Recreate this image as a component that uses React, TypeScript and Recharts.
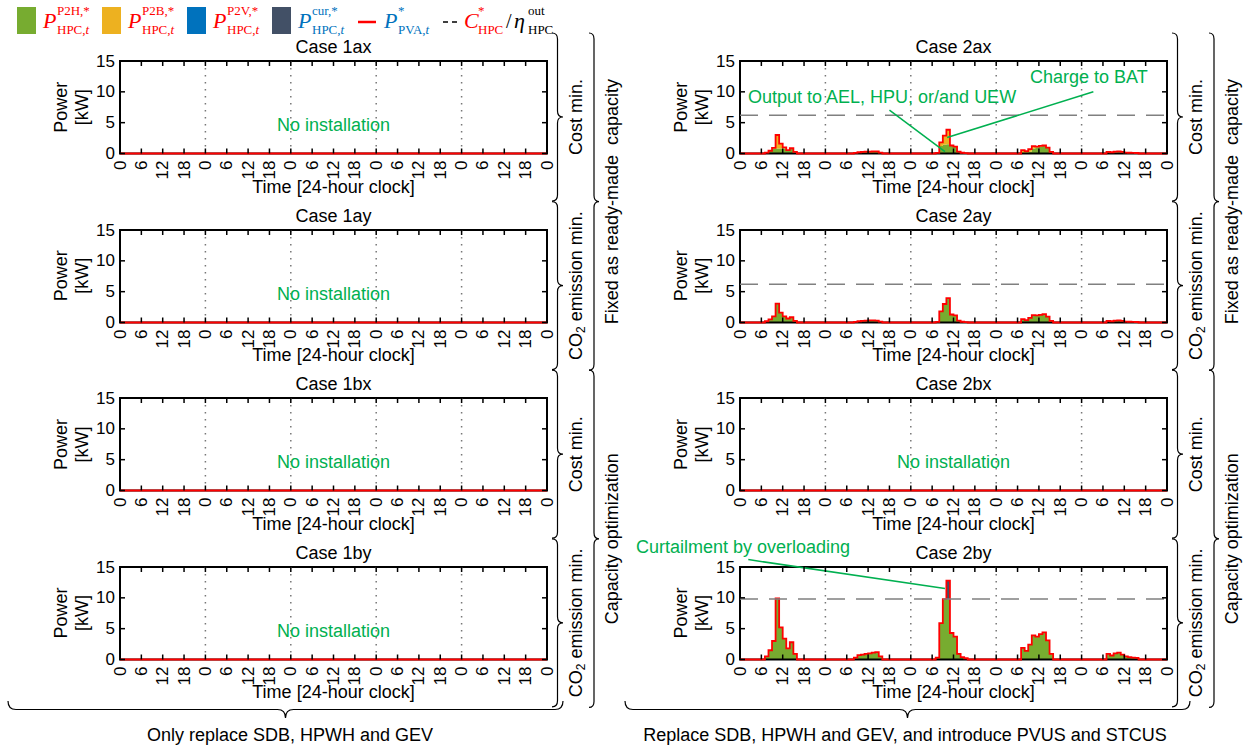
import React from "react";
import { ComposedChart, Area, Line, XAxis, YAxis, ReferenceLine, ReferenceArea } from "recharts";

// hourly values, one row per day, for the hours 6..17 (everything else is 0)
const FIRST_HOUR = 6;
const HOURS = 120;
const X_TICKS = [0, 6, 12, 18, 24, 30, 36, 42, 48, 54, 60, 66, 72, 78, 84, 90, 96, 102, 108, 114, 120];
const Y_TICKS = [0, 5, 10, 15];
const DAY_LINES = [24, 48, 72, 96];

const PV_2AX = [
  [0, 0.15, 0.45, 0.9, 3.0, 1.6, 1.0, 0.55, 0.85, 0.25, 0, 0],
  [0, 0, 0.1, 0.2, 0.25, 0.3, 0.3, 0.35, 0.35, 0.15, 0, 0],
  [0, 0.1, 1.8, 2.9, 3.85, 1.3, 1.1, 0.3, 0.12, 0.06, 0, 0],
  [0, 0.55, 0.4, 0.7, 1.2, 1.1, 1.25, 1.3, 0.95, 0.25, 0, 0],
  [0, 0.25, 0.2, 0.3, 0.35, 0.25, 0.15, 0.12, 0.1, 0.08, 0, 0],
];
const P2H_2AX = [
  [0, 0.15, 0.45, 0.8, 0.8, 0.8, 0.8, 0.55, 0.8, 0.25, 0, 0],
  [0, 0, 0.05, 0.1, 0.1, 0.1, 0.1, 0.1, 0.1, 0.05, 0, 0],
  [0, 0.1, 1.2, 1.4, 1.5, 1.3, 1.1, 0.3, 0.12, 0.06, 0, 0],
  [0, 0.1, 0.1, 0.3, 0.8, 1.0, 1.1, 1.2, 0.9, 0.25, 0, 0],
  [0, 0.1, 0.1, 0.15, 0.2, 0.15, 0.1, 0.1, 0.05, 0.05, 0, 0],
];
const P2B_2AX = [
  [0, 0, 0, 0.1, 2.2, 0.8, 0.2, 0, 0.05, 0, 0, 0],
  [0, 0, 0.05, 0.1, 0.15, 0.2, 0.2, 0.25, 0.25, 0.1, 0, 0],
  [0, 0, 0.6, 1.5, 2.35, 0, 0, 0, 0, 0, 0, 0],
  [0, 0.45, 0.3, 0.4, 0.4, 0.1, 0.15, 0.1, 0.05, 0, 0, 0],
  [0, 0.15, 0.1, 0.15, 0.15, 0.1, 0.05, 0.02, 0.05, 0.03, 0, 0],
];

const PV_2AY = [
  [0, 0.2, 0.5, 1.0, 3.05, 1.6, 1.0, 0.65, 0.85, 0.25, 0, 0],
  [0, 0, 0.1, 0.2, 0.25, 0.3, 0.35, 0.35, 0.3, 0.15, 0, 0],
  [0, 0.1, 1.8, 3.0, 3.95, 1.3, 1.15, 0.3, 0.12, 0.06, 0, 0],
  [0, 0.55, 0.4, 0.75, 1.2, 1.15, 1.25, 1.35, 0.95, 0.25, 0, 0],
  [0, 0.25, 0.2, 0.3, 0.35, 0.25, 0.15, 0.12, 0.1, 0.08, 0, 0],
];
// in 2ay everything generated goes to P2H
const P2H_2AY = PV_2AY;

const PV_2BY = [
  [0, 0.5, 1.5, 3.0, 9.9, 5.2, 3.4, 1.8, 2.8, 0.9, 0, 0],
  [0, 0, 0.3, 0.7, 0.8, 0.9, 1.0, 1.1, 1.2, 0.5, 0, 0],
  [0, 0.3, 5.9, 9.8, 12.8, 4.3, 3.7, 0.9, 0.4, 0.2, 0, 0],
  [0, 1.9, 1.4, 2.4, 3.9, 3.7, 4.1, 4.4, 3.1, 0.9, 0, 0],
  [0, 0.9, 0.65, 1.0, 1.1, 0.8, 0.5, 0.4, 0.3, 0.25, 0, 0],
];
const P2H_2BY = [
  [0, 0.5, 1.5, 3.0, 9.9, 5.2, 3.4, 1.8, 2.8, 0.9, 0, 0],
  [0, 0, 0.3, 0.7, 0.8, 0.9, 1.0, 1.1, 1.2, 0.5, 0, 0],
  [0, 0.3, 5.9, 9.8, 9.8, 4.3, 3.7, 0.9, 0.4, 0.2, 0, 0],
  [0, 1.9, 1.4, 2.4, 3.9, 3.7, 4.1, 4.4, 3.1, 0.9, 0, 0],
  [0, 0.9, 0.65, 1.0, 1.1, 0.8, 0.5, 0.4, 0.3, 0.25, 0, 0],
];
const CUR_2BY = [
  [],
  [],
  [0, 0, 0, 0, 3.0, 0, 0, 0, 0, 0, 0, 0],
];

const CAP_2AX = 6.2;
const CAP_2AY = 6.2;
const CAP_2BY = 9.8;

const FONT = "'Liberation Sans', Arial, sans-serif";
const SERIF = "'Liberation Serif', 'DejaVu Serif', serif";
const GREEN = "#77ac30";
const ORANGE = "#edb120";
const BLUE = "#0072bd";
const DARK = "#425066";
const NOTE = "#00b050";

const PLOT_W = 427;
const PLOT_H = 92.5;
const COL_X = [120, 740];
const ROW_Y = [61, 229.6, 398.2, 566.8];
const Y_AXIS_W = 75;
const X_AXIS_H = 50;
const M_TOP = 32;
const M_RIGHT = 8;

function toHourly(days?: number[][]): number[] {
  const out: number[] = new Array(HOURS + 1).fill(0);
  (days || []).forEach((vals, d) => vals.forEach((v, i) => (out[d * 24 + FIRST_HOUR + i] = v)));
  return out;
}

type Seg = { x: number; y: number }[];
type Panel = {
  title: string;
  col: number;
  row: number;
  pv?: number[][];
  p2h?: number[][];
  p2b?: number[][];
  p2v?: number[][];
  cur?: number[][];
  cap?: number;
  notes?: Seg[];
};

const PANELS: Panel[] = [
  { title: "Case 1ax", col: 0, row: 0 },
  { title: "Case 1ay", col: 0, row: 1 },
  { title: "Case 1bx", col: 0, row: 2 },
  { title: "Case 1by", col: 0, row: 3 },
  {
    title: "Case 2ax", col: 1, row: 0, pv: PV_2AX, p2h: P2H_2AX, p2b: P2B_2AX, cap: CAP_2AX,
    notes: [
      [{ x: 42, y: 7.05 }, { x: 57.6, y: 0.3 }],
      [{ x: 99.3, y: 10 }, { x: 58.2, y: 2.6 }],
    ],
  },
  { title: "Case 2ay", col: 1, row: 1, pv: PV_2AY, p2h: P2H_2AY, cap: CAP_2AY },
  { title: "Case 2bx", col: 1, row: 2 },
  {
    title: "Case 2by", col: 1, row: 3, pv: PV_2BY, p2h: P2H_2BY, cur: CUR_2BY, cap: CAP_2BY,
    notes: [[{ x: 2.33, y: 16.2 }, { x: 57.6, y: 11.5 }]],
  },
];

const XTick = (props: any) => {
  const { x, y, payload } = props;
  return (
    <g>
      <line x1={x} y1={y} x2={x} y2={y - 5} stroke="#000" strokeWidth={1.5} />
      <line x1={x} y1={y - PLOT_H} x2={x} y2={y - PLOT_H + 5} stroke="#000" strokeWidth={1.5} />
      <text
        transform={`translate(${x},${y + 7}) rotate(-90)`}
        textAnchor="end"
        dominantBaseline="central"
        fontSize={17}
        fontFamily={FONT}
        fill="#000"
      >
        {payload.value % 24}
      </text>
    </g>
  );
};

const YTick = (props: any) => {
  const { x, y, payload } = props;
  return (
    <g>
      <line x1={x} y1={y} x2={x + 5} y2={y} stroke="#000" strokeWidth={1.5} />
      <line x1={x + PLOT_W} y1={y} x2={x + PLOT_W - 5} y2={y} stroke="#000" strokeWidth={1.5} />
      <text x={x - 5} y={y} textAnchor="end" dominantBaseline="central" fontSize={17} fontFamily={FONT} fill="#000">
        {payload.value}
      </text>
    </g>
  );
};

function PanelChart({ p }: { p: Panel }) {
  const pv = toHourly(p.pv);
  const p2h = toHourly(p.p2h);
  const p2b = toHourly(p.p2b);
  const p2v = toHourly(p.p2v);
  const cur = toHourly(p.cur);
  const rows = pv.map((v, h) => ({ h, pv: v, p2h: p2h[h], p2b: p2b[h], p2v: p2v[h], cur: cur[h] }));
  const left = COL_X[p.col] - Y_AXIS_W;
  const top = ROW_Y[p.row] - M_TOP;

  return (
    <div style={{ position: "absolute", left, top }}>
      <ComposedChart
        width={Y_AXIS_W + PLOT_W + M_RIGHT}
        height={M_TOP + PLOT_H + X_AXIS_H}
        data={rows}
        margin={{ top: M_TOP, right: M_RIGHT, bottom: 0, left: 0 }}
      >
        <XAxis
          dataKey="h"
          type="number"
          domain={[0, HOURS]}
          ticks={X_TICKS}
          interval={0}
          height={X_AXIS_H}
          axisLine={false}
          tickLine={false}
          tickSize={0}
          tickMargin={0}
          tick={<XTick />}
        />
        <YAxis
          type="number"
          domain={[0, 15]}
          ticks={Y_TICKS}
          interval={0}
          width={Y_AXIS_W}
          axisLine={false}
          tickLine={false}
          tickSize={0}
          tickMargin={0}
          tick={<YTick />}
        />
        {DAY_LINES.map((d) => (
          <ReferenceLine key={d} x={d} stroke="#777" strokeWidth={1.5} strokeDasharray="1.5 5.5" />
        ))}
        <Area type="stepAfter" dataKey="p2h" stackId="s" fill={GREEN} fillOpacity={1} stroke="none" dot={false} activeDot={false} isAnimationActive={false} />
        <Area type="stepAfter" dataKey="p2b" stackId="s" fill={ORANGE} fillOpacity={1} stroke="none" dot={false} activeDot={false} isAnimationActive={false} />
        <Area type="stepAfter" dataKey="p2v" stackId="s" fill={BLUE} fillOpacity={1} stroke="none" dot={false} activeDot={false} isAnimationActive={false} />
        <Area type="stepAfter" dataKey="cur" stackId="s" fill={DARK} fillOpacity={1} stroke="none" dot={false} activeDot={false} isAnimationActive={false} />
        <Line type="stepAfter" dataKey="pv" stroke="#ff0000" strokeWidth={1.8} dot={false} activeDot={false} isAnimationActive={false} />
        {p.cap !== undefined && (
          <ReferenceLine y={p.cap} stroke="#808080" strokeWidth={1.4} strokeDasharray="18 11" />
        )}
        {(p.notes || []).map((s, i) => (
          <ReferenceLine key={i} segment={s} ifOverflow="visible" stroke={NOTE} strokeWidth={1.5} />
        ))}
        <ReferenceArea x1={0} x2={HOURS} y1={0} y2={15} fill="none" stroke="#000" strokeWidth={2} ifOverflow="visible" />
      </ComposedChart>
    </div>
  );
}

function vBrace(x0: number, y0: number, y1: number, w: number) {
  const xm = x0 + w / 2;
  const ym = (y0 + y1) / 2;
  const r = 6;
  return `M${x0},${y0} Q${xm},${y0} ${xm},${y0 + r} L${xm},${ym - r} Q${xm},${ym} ${x0 + w},${ym} Q${xm},${ym} ${xm},${ym + r} L${xm},${y1 - r} Q${xm},${y1} ${x0},${y1}`;
}

function hBrace(x0: number, x1: number, y0: number, h: number) {
  const ym = y0 + h / 2;
  const xc = (x0 + x1) / 2;
  const r = 8;
  return `M${x0},${y0} Q${x0},${ym} ${x0 + r},${ym} L${xc - r},${ym} Q${xc},${ym} ${xc},${y0 + h} Q${xc},${ym} ${xc + r},${ym} L${x1 - r},${ym} Q${x1},${ym} ${x1},${y0}`;
}

const ROW_LABELS = ["Cost min.", "CO2", "Cost min.", "CO2"];
const GROUP_LABELS = ["Fixed as ready-made  capacity", "Capacity optimization"];

function RotText({ x, y, children, size = 18 }: { x: number; y: number; children: React.ReactNode; size?: number }) {
  return (
    <text
      transform={`translate(${x},${y}) rotate(-90)`}
      textAnchor="middle"
      dominantBaseline="central"
      fontSize={size}
      fontFamily={FONT}
      fill="#000"
      style={{ whiteSpace: "pre" }}
    >
      {children}
    </text>
  );
}

function LegendP({ x, color, sym, sup, sub, subT }: { x: number; color: string; sym: string; sup: string; sub: string; subT?: boolean }) {
  return (
    <g fill={color} fontFamily={SERIF}>
      <text x={x} y={28} fontSize={22} fontStyle="italic">{sym}</text>
      <text x={x + 14} y={15} fontSize={13}>{sup}</text>
      <text x={x + 14} y={34} fontSize={13}>
        {sub}
        {subT && <tspan fontStyle="italic">t</tspan>}
      </text>
    </g>
  );
}

function Overlay() {
  const BRACE_STEP = 168.6;
  return (
    <svg width={1247} height={749} style={{ position: "absolute", left: 0, top: 0, pointerEvents: "none" }}>
      {/* legend */}
      <rect x={17} y={7} width={19} height={27} fill={GREEN} />
      <LegendP x={43} color="#ff0000" sym="P" sup="P2H,*" sub="HPC," subT />
      <rect x={102} y={7} width={19} height={27} fill={ORANGE} />
      <LegendP x={128} color="#ff0000" sym="P" sup="P2B,*" sub="HPC," subT />
      <rect x={187} y={7} width={19} height={27} fill={BLUE} />
      <LegendP x={213} color="#ff0000" sym="P" sup="P2V,*" sub="HPC," subT />
      <rect x={272} y={7} width={19} height={27} fill={DARK} />
      <LegendP x={298} color="#0072bd" sym="P" sup="cur,*" sub="HPC," subT />
      <line x1={358} y1={22} x2={376} y2={22} stroke="#ff0000" strokeWidth={2.5} />
      <LegendP x={384} color="#0072bd" sym="P" sup="*" sub="PVA," subT />
      <line x1={443} y1={22} x2={458} y2={22} stroke="#000" strokeWidth={1.5} strokeDasharray="5 4" />
      <LegendP x={464} color="#ff0000" sym="C" sup="*" sub="HPC" />
      <text x={506} y={28} fontSize={20} fontFamily={SERIF} fill="#000">/</text>
      <LegendP x={514} color="#000" sym="η" sup="out" sub="HPC" />

      {/* panel texts */}
      {PANELS.map((p) => {
        const x0 = COL_X[p.col];
        const y0 = ROW_Y[p.row];
        const cx = x0 + PLOT_W / 2;
        const cy = y0 + PLOT_H / 2;
        return (
          <g key={p.title} fontFamily={FONT} fill="#000">
            <text x={cx} y={y0 - 14} textAnchor="middle" dominantBaseline="central" fontSize={18}>{p.title}</text>
            <RotText x={x0 - 59} y={cy}>Power</RotText>
            <RotText x={x0 - 38} y={cy}>[kW]</RotText>
            <text x={cx} y={y0 + PLOT_H + 33} textAnchor="middle" dominantBaseline="central" fontSize={18}>Time [24-hour clock]</text>
            {!p.pv && (
              <text x={cx} y={cy + 18} textAnchor="middle" dominantBaseline="central" fontSize={18} fill={NOTE}>No installation</text>
            )}
          </g>
        );
      })}

      {/* annotations */}
      <g fontFamily={FONT} fontSize={18} fill={NOTE}>
        <text x={748} y={97} dominantBaseline="central">Output to AEL, HPU, or/and UEW</text>
        <text x={1030} y={77} dominantBaseline="central">Charge to BAT</text>
        <text x={636} y={547} dominantBaseline="central">Curtailment by overloading</text>
      </g>

      {/* right-hand braces */}
      {[0, 620].map((off) => (
        <g key={off}>
          {ROW_LABELS.map((lab, i) => {
            const y0 = 33 + i * BRACE_STEP;
            const y1 = y0 + 168;
            return (
              <g key={i}>
                <path d={vBrace(552 + off, y0, y1, 11)} fill="none" stroke="#000" strokeWidth={1.2} />
                {lab === "CO2" ? (
                  <RotText x={576 + off} y={(y0 + y1) / 2}>
                    CO<tspan dy={5} fontSize={12}>2</tspan>
                    <tspan dy={-5}> emission min.</tspan>
                  </RotText>
                ) : (
                  <RotText x={576 + off} y={(y0 + y1) / 2}>{lab}</RotText>
                )}
              </g>
            );
          })}
          {GROUP_LABELS.map((lab, i) => {
            const y0 = 33 + i * 2 * BRACE_STEP;
            const y1 = y0 + 2 * BRACE_STEP;
            return (
              <g key={lab}>
                <path d={vBrace(589 + off, y0, y1, 10)} fill="none" stroke="#000" strokeWidth={1.2} />
                <RotText x={612 + off} y={(y0 + y1) / 2}>{lab}</RotText>
              </g>
            );
          })}
        </g>
      ))}

      {/* bottom braces */}
      <path d={hBrace(8, 563, 701, 17)} fill="none" stroke="#000" strokeWidth={1.2} />
      <text x={290} y={735} textAnchor="middle" dominantBaseline="central" fontSize={18} fontFamily={FONT}>Only replace SDB, HPWH and GEV</text>
      <path d={hBrace(625, 1190, 701, 17)} fill="none" stroke="#000" strokeWidth={1.2} />
      <text x={905} y={735} textAnchor="middle" dominantBaseline="central" fontSize={18} fontFamily={FONT}>Replace SDB, HPWH and GEV, and introduce PVUS and STCUS</text>
    </svg>
  );
}

export default function App() {
  return (
    <div style={{ position: "absolute", left: 0, top: 0, width: 1247, height: 749, background: "#fff", overflow: "hidden" }}>
      {PANELS.map((p) => (
        <PanelChart key={p.title} p={p} />
      ))}
      <Overlay />
    </div>
  );
}
